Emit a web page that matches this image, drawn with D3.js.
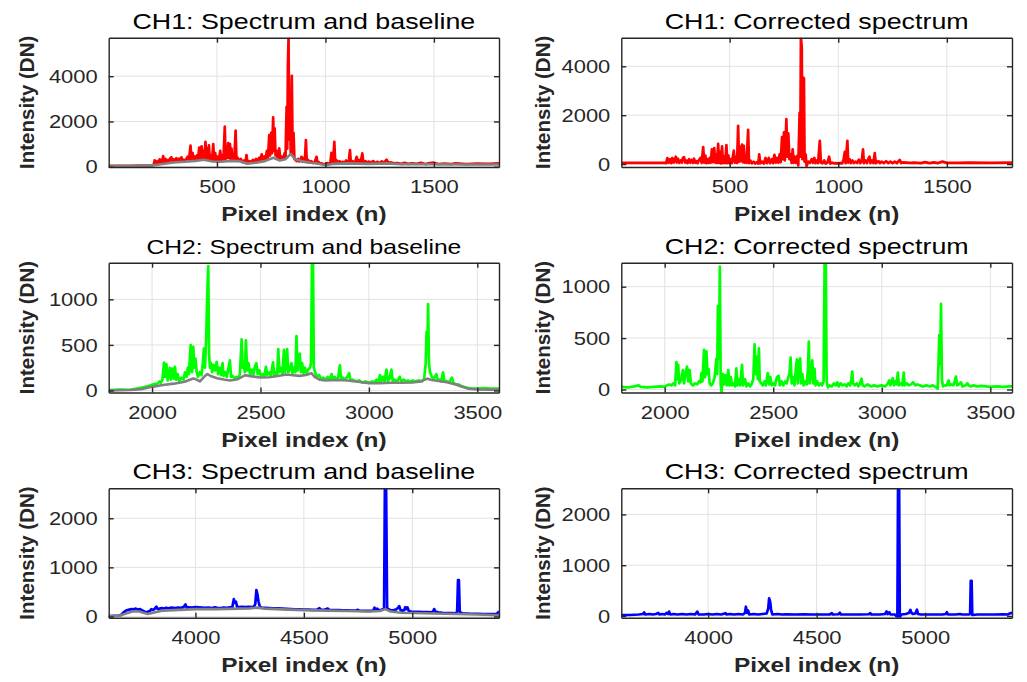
<!DOCTYPE html>
<html><head><meta charset="utf-8">
<script src="https://cdn.jsdelivr.net/npm/d3@7"></script>
<style>
html,body{margin:0;padding:0;background:#fff;}
svg{display:block;}
text{font-family:"Liberation Sans",Arial,Helvetica,sans-serif;}
</style></head><body>
<svg id="chart" width="1027" height="682"></svg>
<script>
// ---------- DATA ----------
const titles = ["CH1: Spectrum and baseline","CH1: Corrected spectrum",
                "CH2: Spectrum and baseline","CH2: Corrected spectrum",
                "CH3: Spectrum and baseline","CH3: Corrected spectrum"];
const xLabel = "Pixel index (n)";
const yLabel = "Intensity (DN)";

const ch1XTicks = [500,1000,1500];
const ch2XTicks = [2000,2500,3000,3500];
const ch3XTicks = [4000,4500,5000];
const ch1YTicks = [0,2000,4000];
const ch2YTicks = [0,500,1000];
const ch3YTicks = [0,1000,2000];

const ch1Raw = [[1,40],[50,45],[100,45],[150,50],[200,60],[208,80],
[213,280],[218,90],[225,250],[230,110],[236,330],[242,150],[248,300],[252,470],[256,180],[262,350],[268,200],[275,300],[280,220],[285,380],[290,420],[295,230],[300,330],[306,240],[313,380],[318,250],[325,360],[331,260],[336,420],[342,280],[348,300],[352,250],[358,330],[365,450],[371,280],[378,930],[383,300],[388,600],[393,300],[398,450],[403,320],[408,500],[413,330],[418,850],[423,380],[429,900],[434,350],[438,700],[442,380],[447,1100],[451,360],[455,800],[459,330],[463,950],[467,320],[472,500],[477,300],[483,1000],[487,280],[492,600],[497,260],[503,450],[509,280],[515,700],[520,300],[525,500],[530,320],[536,1770],[540,350],[545,900],[548,400],[552,1050],[556,380],[560,1000],[564,350],[567,800],[571,330],[575,500],[580,320],[586,1600],[590,300],[595,400],[602,260],[610,350],[618,200],[626,280],[632,160],[636,520],[641,170],[650,250],[658,190],[665,300],[672,220],[680,350],[686,240],[695,400],[700,260],[706,550],[712,320],[718,450],[724,330],[730,700],[735,400],[741,1400],[745,500],[750,1500],[754,600],[759,2180],[763,700],[766,1700],[770,500],[775,700],[780,350],[787,810],[792,320],[800,450],[806,350],[812,600],[816,400],[821,2650],[824,800],[827,4500],[830,5700],[833,1200],[836,3000],[840,600],[845,4020],[849,500],[853,1500],[857,350],[862,300],[868,250],[875,350],[880,230],[885,300],[890,440],[895,220],[900,380],[905,220],[910,1180],[914,200],[920,300],[927,180],[935,250],[942,170],[950,200],[959,440],[964,150],[970,200],[975,130],[982,160],[990,110],[1000,130],[1010,160],[1018,120],[1023,200],[1028,620],[1032,150],[1036,300],[1041,1100],[1045,180],[1050,300],[1056,170],[1065,250],[1072,180],[1080,220],[1087,170],[1095,280],[1102,180],[1108,250],[1113,740],[1117,190],[1125,250],[1132,180],[1138,250],[1144,440],[1148,180],[1155,300],[1162,190],[1170,590],[1175,180],[1185,250],[1192,170],[1200,230],[1210,180],[1220,250],[1230,170],[1240,220],[1250,160],[1260,240],[1270,180],[1282,310],[1290,170],[1300,200],[1315,150],[1330,160],[1350,130],[1365,170],[1380,130],[1400,150],[1420,130],[1440,170],[1460,120],[1480,160],[1500,180],[1520,120],[1550,140],[1580,120],[1600,150],[1650,120],[1700,140],[1750,130],[1800,150]];

const ch1Base = [[1,30],[100,35],[200,60],[250,120],[300,190],[350,220],[400,260],[440,310],[480,230],[520,220],[560,260],[600,250],[640,140],[680,180],[720,250],[760,400],[790,280],[815,330],[840,570],[860,330],[890,250],[930,180],[970,130],[1000,70],[1040,130],[1100,150],[1150,140],[1200,130],[1280,150],[1350,110],[1500,110],[1650,100],[1800,100]];

const ch1Corr = [[1,50],[100,50],[200,50],[208,40],[213,245],[218,60],[225,200],[230,40],[236,250],[242,60],[248,200],[252,300],[256,60],[262,220],[268,50],[275,150],[280,60],[285,250],[290,280],[295,60],[300,150],[306,40],[313,200],[318,60],[325,170],[331,50],[336,220],[342,60],[348,120],[352,40],[358,150],[365,250],[371,50],[378,694],[383,60],[388,350],[393,40],[398,200],[403,50],[408,250],[413,60],[418,600],[423,80],[429,650],[434,60],[438,400],[442,50],[447,830],[451,60],[455,500],[459,30],[465,720],[469,40],[474,300],[479,40],[485,780],[489,40],[494,350],[499,40],[505,200],[510,40],[519,550],[524,60],[530,300],[534,50],[539,1563],[543,100],[548,700],[552,120],[557,800],[561,80],[565,750],[569,60],[573,300],[578,50],[585,1400],[589,40],[595,150],[602,30],[610,100],[618,20],[626,80],[632,20],[636,400],[641,30],[650,100],[658,20],[665,250],[672,40],[680,250],[686,40],[695,200],[700,40],[706,380],[712,60],[718,250],[724,60],[730,400],[735,80],[741,1100],[746,200],[750,1300],[754,150],[761,1836],[766,300],[770,1260],[775,200],[781,400],[785,50],[790,600],[795,50],[800,300],[806,50],[812,350],[816,-50],[822,2100],[825,300],[828,5170],[832,4800],[835,200],[838,3550],[842,3500],[845,100],[850,400],[854,-80],[862,100],[870,50],[878,200],[884,50],[890,250],[895,40],[902,150],[907,40],[915,950],[920,60],[927,30],[935,150],[942,20],[950,60],[958,300],[963,20],[970,60],[980,30],[990,40],[1000,30],[1010,40],[1018,30],[1024,150],[1030,500],[1034,40],[1042,950],[1046,60],[1052,200],[1058,40],[1065,150],[1072,40],[1080,100],[1087,40],[1095,180],[1102,40],[1108,120],[1114,600],[1118,40],[1125,150],[1132,40],[1138,200],[1144,300],[1148,40],[1155,150],[1162,40],[1168,450],[1173,40],[1185,120],[1192,40],[1200,100],[1210,40],[1220,120],[1230,40],[1240,100],[1250,40],[1260,100],[1270,40],[1283,170],[1290,40],[1300,70],[1330,50],[1350,60],[1380,40],[1400,80],[1420,40],[1440,70],[1460,40],[1480,100],[1500,50],[1550,50],[1600,60],[1700,50],[1800,60]];

const ch2Raw = [[1800,5],[1850,10],[1900,8],[1930,20],[1960,35],[1990,55],[2010,70],[2025,75],[2035,100],[2040,85],[2048,120],[2055,307],[2060,150],[2066,290],[2072,110],[2082,250],[2087,120],[2094,240],[2100,130],[2106,260],[2111,120],[2118,180],[2125,100],[2135,140],[2145,120],[2152,200],[2159,150],[2165,250],[2170,180],[2178,498],[2184,200],[2190,480],[2195,250],[2200,350],[2206,200],[2212,150],[2220,200],[2228,170],[2234,300],[2239,460],[2244,250],[2250,600],[2254,1011],[2259,1366],[2263,400],[2267,250],[2272,300],[2277,200],[2284,280],[2290,220],[2298,314],[2304,180],[2312,250],[2318,170],[2325,300],[2330,160],[2338,200],[2345,150],[2352,240],[2359,330],[2364,150],[2372,160],[2380,130],[2390,150],[2398,130],[2405,180],[2413,560],[2418,250],[2423,300],[2428,200],[2433,550],[2438,220],[2445,300],[2452,180],[2460,230],[2467,170],[2474,260],[2481,300],[2487,180],[2495,220],[2502,160],[2510,180],[2518,150],[2525,260],[2531,170],[2540,200],[2548,160],[2558,310],[2563,170],[2570,200],[2577,180],[2582,455],[2587,200],[2595,250],[2602,180],[2608,445],[2613,200],[2618,300],[2623,455],[2628,200],[2635,230],[2643,300],[2648,190],[2656,250],[2661,200],[2666,597],[2671,220],[2676,300],[2681,405],[2686,200],[2692,300],[2698,190],[2705,250],[2712,180],[2720,230],[2728,250],[2733,300],[2738,1500],[2742,1500],[2746,250],[2752,200],[2760,150],[2770,170],[2780,130],[2790,140],[2800,120],[2810,150],[2820,120],[2828,180],[2834,120],[2842,150],[2850,120],[2858,140],[2866,277],[2872,130],[2880,140],[2890,120],[2900,150],[2909,190],[2915,110],[2925,120],[2940,100],[2955,110],[2970,85],[2985,100],[3000,85],[3015,100],[3025,90],[3035,120],[3043,90],[3051,170],[3057,100],[3065,150],[3072,100],[3081,230],[3087,100],[3095,130],[3104,230],[3110,100],[3120,120],[3130,95],[3142,150],[3150,100],[3160,120],[3170,100],[3180,110],[3190,95],[3200,110],[3215,100],[3230,110],[3245,100],[3255,130],[3262,300],[3266,644],[3270,500],[3273,948],[3277,300],[3282,200],[3290,150],[3300,130],[3311,180],[3318,110],[3326,120],[3333,100],[3342,200],[3348,110],[3360,100],[3370,90],[3383,140],[3390,80],[3400,70],[3415,65],[3430,45],[3445,35],[3460,25],[3480,20],[3500,20],[3530,25],[3560,20],[3590,20],[3600,25]];

const ch2Base = [[1800,0],[1850,2],[1900,5],[1950,15],[2000,40],[2050,60],[2100,75],[2150,95],[2190,132],[2200,125],[2221,100],[2240,150],[2255,180],[2270,160],[2300,135],[2330,120],[2360,110],[2390,120],[2415,150],[2430,168],[2460,155],[2497,143],[2540,145],[2580,160],[2620,176],[2640,170],[2680,160],[2710,170],[2735,190],[2750,150],[2774,117],[2800,110],[2850,115],[2900,110],[2950,95],[3000,80],[3050,80],[3100,85],[3150,85],[3200,88],[3240,100],[3270,130],[3290,115],[3320,105],[3360,90],[3400,65],[3430,40],[3460,20],[3500,12],[3550,10],[3600,10]];

const ch2Corr = [[1800,25],[1830,20],[1860,30],[1880,40],[1890,25],[1920,20],[1950,25],[1980,30],[2000,25],[2010,40],[2020,50],[2030,40],[2040,60],[2048,40],[2054,266],[2058,100],[2062,240],[2067,60],[2076,90],[2084,190],[2089,60],[2095,150],[2103,223],[2108,80],[2115,190],[2120,60],[2130,40],[2140,60],[2150,50],[2158,80],[2165,70],[2169,160],[2174,80],[2181,385],[2186,120],[2192,370],[2197,150],[2202,200],[2207,60],[2214,40],[2222,60],[2230,120],[2238,300],[2242,150],[2245,812],[2250,300],[2254,1194],[2258,50],[2262,-25],[2268,150],[2273,50],[2280,140],[2286,40],[2293,190],[2298,40],[2305,120],[2310,40],[2318,60],[2324,30],[2330,205],[2335,40],[2342,100],[2348,40],[2356,240],[2361,40],[2370,100],[2377,30],[2385,60],[2393,30],[2400,50],[2408,100],[2414,440],[2418,150],[2422,300],[2425,320],[2429,100],[2434,400],[2438,80],[2445,60],[2452,40],[2460,80],[2466,40],[2475,160],[2481,50],[2487,120],[2493,40],[2500,60],[2508,40],[2517,120],[2525,133],[2530,40],[2538,80],[2546,40],[2555,80],[2562,60],[2570,120],[2575,160],[2580,310],[2585,60],[2592,120],[2598,40],[2604,200],[2609,294],[2613,60],[2618,250],[2624,304],[2628,60],[2634,150],[2640,40],[2648,80],[2655,50],[2660,200],[2664,466],[2668,60],[2673,150],[2680,283],[2684,60],[2690,200],[2695,40],[2702,80],[2710,40],[2718,60],[2725,40],[2732,80],[2737,1300],[2742,1300],[2746,80],[2752,20],[2760,40],[2770,30],[2780,60],[2788,40],[2795,70],[2802,30],[2810,60],[2820,40],[2830,50],[2838,30],[2846,60],[2854,40],[2860,100],[2864,175],[2868,60],[2876,40],[2885,60],[2892,30],[2900,60],[2907,105],[2912,40],[2920,30],[2935,50],[2950,30],[2965,40],[2980,30],[3000,40],[3015,30],[3025,50],[3035,88],[3040,40],[3051,110],[3056,40],[3062,80],[3068,50],[3074,165],[3079,40],[3088,60],[3095,40],[3101,165],[3106,40],[3115,60],[3125,40],[3135,50],[3145,70],[3155,40],[3165,50],[3175,40],[3190,30],[3205,40],[3220,30],[3235,40],[3250,20],[3258,10],[3262,300],[3265,530],[3269,250],[3273,832],[3277,100],[3282,30],[3290,40],[3300,40],[3308,88],[3313,40],[3322,50],[3330,40],[3336,80],[3342,125],[3347,40],[3355,50],[3365,70],[3372,30],[3385,40],[3395,60],[3400,40],[3410,30],[3420,40],[3440,30],[3460,35],[3480,30],[3500,25],[3530,30],[3560,25],[3590,30],[3600,30]];

const ch3Raw = [[3600,10],[3630,15],[3650,20],[3660,40],[3667,80],[3680,120],[3695,140],[3705,150],[3715,145],[3725,160],[3735,140],[3745,150],[3755,120],[3765,100],[3773,80],[3782,100],[3790,110],[3797,150],[3805,130],[3813,160],[3820,200],[3826,150],[3835,160],[3845,170],[3855,160],[3865,175],[3875,165],[3890,180],[3905,170],[3920,180],[3935,175],[3945,190],[3954,245],[3960,180],[3970,185],[3985,180],[4000,190],[4015,185],[4030,180],[4045,175],[4060,180],[4075,170],[4090,185],[4100,175],[4115,170],[4130,180],[4145,175],[4160,185],[4170,190],[4177,353],[4182,280],[4187,300],[4192,200],[4200,190],[4215,195],[4230,190],[4245,195],[4260,190],[4270,200],[4276,250],[4281,537],[4286,450],[4291,300],[4297,200],[4305,180],[4320,175],[4340,170],[4360,165],[4380,165],[4400,160],[4420,155],[4440,150],[4460,145],[4480,145],[4500,140],[4520,140],[4540,135],[4560,135],[4572,170],[4580,135],[4595,135],[4610,160],[4618,130],[4640,130],[4660,130],[4680,125],[4700,125],[4720,120],[4740,120],[4747,135],[4755,120],[4775,115],[4795,115],[4810,115],[4820,120],[4826,180],[4831,120],[4838,160],[4845,130],[4856,130],[4870,160],[4874,2800],[4879,2800],[4884,170],[4893,140],[4905,120],[4915,130],[4925,140],[4935,180],[4940,210],[4946,130],[4955,120],[4962,125],[4968,190],[4972,150],[4978,185],[4984,110],[4995,100],[5010,95],[5030,95],[5050,90],[5070,90],[5090,85],[5097,110],[5101,150],[5106,100],[5120,85],[5140,75],[5160,70],[5180,70],[5200,65],[5207,100],[5211,740],[5215,740],[5219,90],[5230,65],[5250,60],[5270,55],[5300,55],[5330,50],[5360,50],[5390,55],[5397,90],[5400,100]];

const ch3Base = [[3600,5],[3650,15],[3680,60],[3710,100],[3740,100],[3760,75],[3780,50],[3810,80],[3850,120],[3900,130],[3950,140],[4000,150],[4050,150],[4100,150],[4150,155],[4200,160],[4250,165],[4285,180],[4320,160],[4400,145],[4500,130],[4600,120],[4700,110],[4800,100],[4850,110],[4876,150],[4900,100],[4950,75],[5000,70],[5100,60],[5200,50],[5300,40],[5400,25]];

const ch3Corr = [[3600,20],[3640,20],[3680,30],[3700,40],[3705,70],[3710,30],[3730,40],[3745,30],[3760,40],[3770,60],[3776,30],[3790,40],[3800,30],[3808,60],[3815,40],[3820,87],[3826,30],[3840,40],[3860,30],[3880,40],[3900,30],[3920,40],[3940,30],[3950,87],[3956,30],[3980,30],[4000,40],[4020,30],[4040,40],[4060,30],[4080,55],[4085,30],[4100,40],[4120,30],[4140,40],[4160,30],[4170,60],[4174,183],[4179,60],[4184,110],[4190,30],[4210,40],[4230,30],[4250,40],[4270,50],[4277,150],[4281,348],[4286,280],[4290,120],[4296,30],[4320,40],[4340,30],[4360,35],[4400,30],[4440,35],[4480,30],[4520,30],[4560,30],[4570,55],[4575,30],[4600,35],[4607,65],[4612,30],[4650,30],[4700,30],[4740,35],[4747,55],[4752,30],[4790,30],[4815,40],[4822,90],[4827,40],[4835,75],[4840,30],[4860,30],[4872,-20],[4875,2600],[4880,2600],[4883,-20],[4890,30],[4910,40],[4925,60],[4932,120],[4937,60],[4945,40],[4955,50],[4962,125],[4967,40],[4980,30],[5000,30],[5040,30],[5080,30],[5095,40],[5100,75],[5105,30],[5140,30],[5160,40],[5170,30],[5200,30],[5207,40],[5210,690],[5214,690],[5217,20],[5240,30],[5280,30],[5320,30],[5360,35],[5380,30],[5395,60],[5400,60]];

// ---------- LAYOUT / STYLE ----------
const SX = 1.22;                 // horizontal text stretch seen in the reference
const colX = [[108.7,499],[621.3,1012]];
const rowY = [[37.7,167],[262.7,392.5],[488.3,617.7]];
const yLabOff = [75, 71];
const axisColor = "#262626";
const gridColor = "#e2e2e2";
const baseColor = "#808080";

const panels = [
  {r:0,c:0,title:titles[0],tSize:22,  xd:[1,1800],   yd:[-10,5700], xt:ch1XTicks,yt:ch1YTicks,spec:ch1Raw, base:ch1Base,color:"#ff0000"},
  {r:0,c:1,title:titles[1],tSize:22,  xd:[1,1800],   yd:[-120,5170],xt:ch1XTicks,yt:ch1YTicks,spec:ch1Corr,base:null,   color:"#ff0000"},
  {r:1,c:0,title:titles[2],tSize:20.2,xd:[1800,3600],yd:[-22,1402], xt:ch2XTicks,yt:ch2YTicks,spec:ch2Raw, base:ch2Base,color:"#00ff00"},
  {r:1,c:1,title:titles[3],tSize:22,  xd:[1800,3600],yd:[-29,1233], xt:ch2XTicks,yt:ch2YTicks,spec:ch2Corr,base:null,   color:"#00ff00"},
  {r:2,c:0,title:titles[4],tSize:22,  xd:[3600,5400],yd:[-25,2610], xt:ch3XTicks,yt:ch3YTicks,spec:ch3Raw, base:ch3Base,color:"#0000ff"},
  {r:2,c:1,title:titles[5],tSize:22,  xd:[3600,5400],yd:[-33,2514], xt:ch3XTicks,yt:ch3YTicks,spec:ch3Corr,base:null,   color:"#0000ff"}
];

const svg = d3.select("#chart");
const defs = svg.append("defs");

panels.forEach((p, i) => {
  const [x0, x1] = colX[p.c];
  const [y0, y1] = rowY[p.r];
  const x = d3.scaleLinear().domain(p.xd).range([x0, x1]);
  const y = d3.scaleLinear().domain(p.yd).range([y1, y0]);
  const g = svg.append("g");

  // grid
  g.append("g").selectAll("line").data(p.xt).join("line")
    .attr("x1", d => x(d)).attr("x2", d => x(d)).attr("y1", y0).attr("y2", y1)
    .attr("stroke", gridColor).attr("stroke-width", 1);
  g.append("g").selectAll("line").data(p.yt).join("line")
    .attr("y1", d => y(d)).attr("y2", d => y(d)).attr("x1", x0).attr("x2", x1)
    .attr("stroke", gridColor).attr("stroke-width", 1);

  // clip
  const cid = "clip" + i;
  defs.append("clipPath").attr("id", cid).append("rect")
    .attr("x", x0).attr("y", y0).attr("width", x1 - x0).attr("height", y1 - y0);

  const line = d3.line().x(d => x(d[0])).y(d => y(d[1]));
  const pg = g.append("g").attr("clip-path", `url(#${cid})`);
  pg.append("path").datum(p.spec).attr("d", line)
    .attr("fill", "none").attr("stroke", p.color).attr("stroke-width", 2.7)
    .attr("stroke-linejoin", "round");
  if (p.base) {
    pg.append("path").datum(p.base).attr("d", line)
      .attr("fill", "none").attr("stroke", baseColor).attr("stroke-width", 2.6)
      .attr("stroke-linejoin", "round");
  }

  // axes (box with inward ticks)
  const styleAxis = sel => {
    sel.select(".domain").attr("stroke", axisColor).attr("stroke-width", 1.4);
    sel.selectAll(".tick line").attr("stroke", axisColor).attr("stroke-width", 1.4);
    sel.selectAll("text").attr("fill", axisColor).style("font-size", "18px")
       .style("font-family", '"Liberation Sans",Arial,sans-serif');
  };
  const bx = g.append("g").attr("transform", `translate(0,${y1})`)
    .call(d3.axisBottom(x).tickValues(p.xt).tickSize(-5).tickSizeOuter(0).tickFormat(d3.format("d")))
    .call(styleAxis);
  bx.selectAll("text").attr("y", 26.5).attr("dy", 0).attr("x", 0)
    .attr("transform", `scale(${SX},1)`);
  g.append("g").attr("transform", `translate(0,${y0})`)
    .call(d3.axisTop(x).tickValues(p.xt).tickSize(-5).tickSizeOuter(0).tickFormat(""))
    .call(styleAxis);
  const ly = g.append("g").attr("transform", `translate(${x0},0)`)
    .call(d3.axisLeft(y).tickValues(p.yt).tickSize(-5).tickSizeOuter(0).tickFormat(d3.format("d")))
    .call(styleAxis);
  ly.selectAll("text").attr("x", -11 / SX).attr("dy", "0.34em")
    .attr("transform", `scale(${SX},1)`);
  g.append("g").attr("transform", `translate(${x1},0)`)
    .call(d3.axisRight(y).tickValues(p.yt).tickSize(-5).tickSizeOuter(0).tickFormat(""))
    .call(styleAxis);

  // title
  g.append("text")
    .attr("transform", `translate(${(x0 + x1) / 2},${y0 - 9}) scale(${SX},1)`)
    .attr("text-anchor", "middle").attr("fill", "#000")
    .style("font-size", p.tSize + "px").text(p.title);

  // x label
  g.append("text")
    .attr("transform", `translate(${(x0 + x1) / 2},${y1 + 54}) scale(${SX},1)`)
    .attr("text-anchor", "middle").attr("fill", axisColor)
    .style("font-size", "20px").style("font-weight", "bold").text(xLabel);

  // y label
  g.append("text")
    .attr("transform", `translate(${x0 - yLabOff[p.c]},${(y0 + y1) / 2}) rotate(-90)`)
    .attr("text-anchor", "middle").attr("fill", axisColor)
    .style("font-size", "20.5px").style("font-weight", "bold").text(yLabel);
});
</script>
</body></html>
